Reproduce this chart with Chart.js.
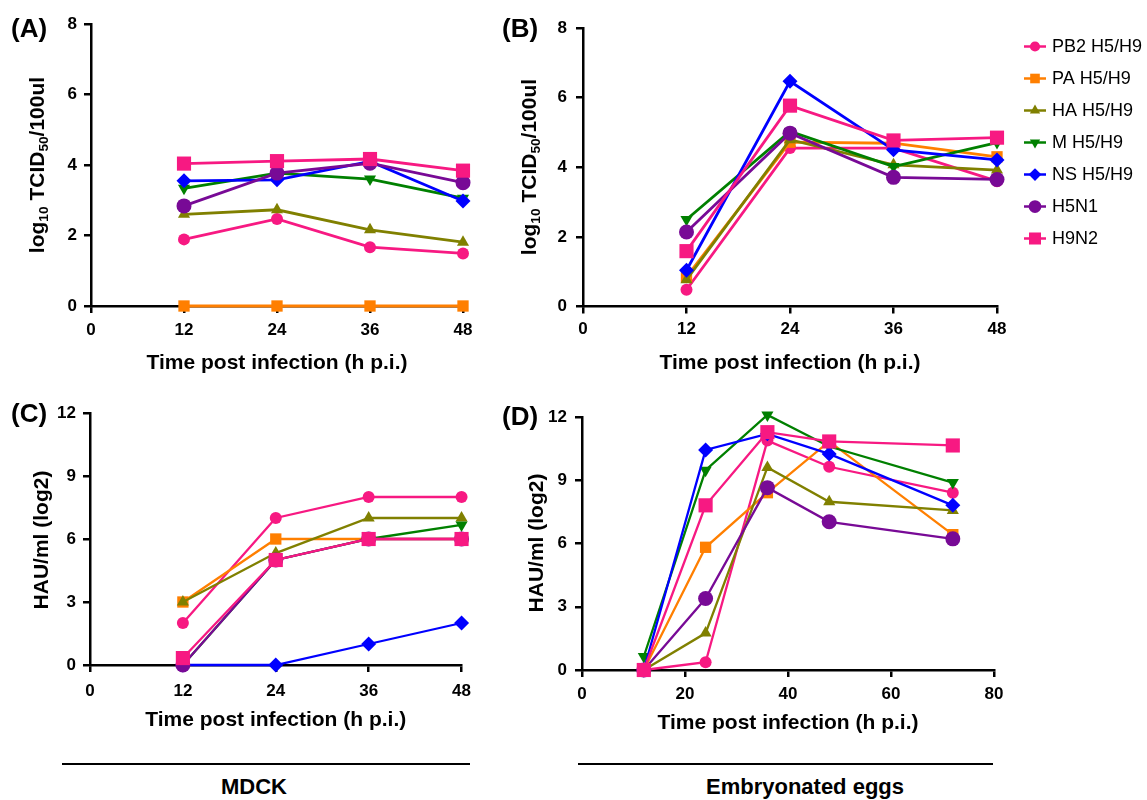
<!DOCTYPE html>
<html>
<head>
<meta charset="utf-8">
<script src="https://cdn.jsdelivr.net/npm/chart.js@4.4.1/dist/chart.umd.min.js"></script>
<style>
  body { margin: 0; background: #fff; width: 1147px; height: 800px; position: relative; overflow: hidden;
         font-family: "Liberation Sans", Arial, sans-serif; color: #000; }
  canvas { position: absolute; }
  .tag { position: absolute; font-weight: bold; font-size: 26px; line-height: 26px; white-space: nowrap; }
  .ytitle { position: absolute; font-weight: bold; font-size: 21px; line-height: 21px; white-space: nowrap;
            transform: translate(-50%, -50%) rotate(-90deg); }
  .ytitle sub { font-size: 65%; vertical-align: -0.3em; line-height: 0; }
  .rule { position: absolute; height: 2px; background: #000; }
  .group { position: absolute; font-weight: bold; font-size: 22px; line-height: 22px; white-space: nowrap;
           transform: translate(-50%, -50%); }
</style>
</head>
<body>
<canvas id="chartA"></canvas>
<canvas id="chartB"></canvas>
<canvas id="chartC"></canvas>
<canvas id="chartD"></canvas>

<div class="tag" style="left:11px;top:15px">(A)</div>
<div class="tag" style="left:502px;top:15px">(B)</div>
<div class="tag" style="left:11px;top:400px">(C)</div>
<div class="tag" style="left:502px;top:403px">(D)</div>

<div class="ytitle" style="left:36px;top:165px">log<sub>10</sub> TCID<sub>50</sub>/100ul</div>
<div class="ytitle" style="left:528px;top:167px">log<sub>10</sub> TCID<sub>50</sub>/100ul</div>
<div class="ytitle" style="left:40px;top:540px">HAU/ml (log2)</div>
<div class="ytitle" style="left:535px;top:543px">HAU/ml (log2)</div>

<div class="rule" style="left:62px;top:763px;width:408px"></div>
<div class="rule" style="left:578px;top:763px;width:415px"></div>
<div class="group" style="left:254px;top:787px">MDCK</div>
<div class="group" style="left:805px;top:787px">Embryonated eggs</div>

<script>
// series, in legend order
const seriesNames = ["PB2 H5/H9", "PA H5/H9", "HA H5/H9", "M H5/H9", "NS H5/H9", "H5N1", "H9N2"];
const colors = ["#f71982", "#ff7f00", "#808000", "#008000", "#0000ff", "#780a96", "#f71982"];

const hoursShort = [12, 24, 36, 48];
const hoursEggHA = [12, 24, 36, 48, 72];

// (A) MDCK, log10 TCID50/100ul
const tcidMDCK = [
  [1.89, 2.47, 1.67, 1.49],
  [0, 0, 0, 0],
  [2.60, 2.73, 2.16, 1.81],
  [3.34, 3.77, 3.60, 3.06],
  [3.55, 3.58, 4.10, 2.98],
  [2.84, 3.77, 4.05, 3.50],
  [4.04, 4.11, 4.17, 3.84]
];
// (B) eggs, log10 TCID50/100ul
const tcidEggs = [
  [0.48, 4.55, 4.55, 3.60],
  [0.85, 4.72, 4.69, 4.30],
  [0.77, 4.79, 4.07, 3.92],
  [2.50, 5.03, 4.02, 4.71],
  [1.04, 6.47, 4.50, 4.21],
  [2.14, 4.98, 3.71, 3.65],
  [1.59, 5.77, 4.77, 4.85]
];
// (C) MDCK, HAU/ml (log2)
const hauMDCK = [
  [2, 7, 8, 8],
  [3, 6, 6, 6],
  [3, 5.33, 7, 7],
  [0, 5, 6, 6.67],
  [0, 0, 1, 2],
  [0, 5, 6, 6],
  [0.33, 5, 6, 6]
];
// (D) eggs, HAU/ml (log2)
const hauEggs = [
  [0, 0.37, 10.88, 9.64, 8.41],
  [0, 5.82, 8.41, 10.84, 6.42],
  [0, 1.75, 9.61, 7.98, 7.57],
  [0.64, 9.48, 12.1, 10.6, 8.89],
  [0, 10.44, 11.2, 10.25, 7.81],
  [0, 3.39, 8.65, 7.03, 6.22],
  [0, 7.81, 11.28, 10.84, 10.65]
];

const markers = [
  { pointStyle: "circle", radius: 6, rotation: 0 },
  { pointStyle: "rect", radius: 8, rotation: 0 },
  { pointStyle: "triangle", radius: 7, rotation: 0 },
  { pointStyle: "triangle", radius: 7, rotation: 180 },
  { pointStyle: "rectRot", radius: 7.5, rotation: 0 },
  { pointStyle: "circle", radius: 7.5, rotation: 0 },
  { pointStyle: "rect", radius: 10, rotation: 0 }
];

const FONT = "'Liberation Sans', Arial, sans-serif";

function buildDatasets(xs, rows, lw) {
  return rows.map((row, i) => ({
    label: seriesNames[i],
    data: row.map((v, j) => ({ x: xs[j], y: v })),
    borderColor: colors[i],
    backgroundColor: colors[i],
    borderWidth: lw,
    pointStyle: markers[i].pointStyle,
    pointRadius: markers[i].radius,
    pointRotation: markers[i].rotation,
    pointBorderWidth: 0,
    pointHoverRadius: markers[i].radius,
    tension: 0,
    clip: false,
    order: seriesNames.length - i
  }));
}

// legend drawn in the empty strip right of panel B
const sideLegend = {
  id: "sideLegend",
  afterDraw(chart) {
    const ctx = chart.ctx;
    ctx.save();
    chart.data.datasets.forEach((ds, i) => {
      const y = 46.5 + i * 32;
      ctx.strokeStyle = ds.borderColor;
      ctx.fillStyle = ds.borderColor;
      ctx.lineWidth = 2.5;
      ctx.beginPath();
      ctx.moveTo(524, y);
      ctx.lineTo(546, y);
      ctx.stroke();
      Chart.helpers.drawPoint(ctx, {
        pointStyle: ds.pointStyle, radius: ds.pointRadius * 0.85,
        rotation: ds.pointRotation, borderWidth: 0
      }, 535, y);
      ctx.fillStyle = "#000";
      ctx.font = "18px " + FONT;
      ctx.textBaseline = "middle";
      ctx.textAlign = "left";
      ctx.fillText(ds.label, 552, y + 1);
    });
    ctx.restore();
  }
};

function panel(id, g, xs, rows, xMax, xStep, yMax, yStep, lw, extra) {
  const cv = document.getElementById(id);
  const lh = 21 * 1.2;
  const H = Math.round(g.titleY + lh / 2 + 4 - g.top);
  cv.width = g.width;
  cv.height = H;
  cv.style.left = g.left + "px";
  cv.style.top = g.top + "px";
  const axisLine = { color: "#000", width: 2.5 };
  return new Chart(cv, {
    type: "line",
    data: { datasets: buildDatasets(xs, rows, lw) },
    options: {
      responsive: false,
      devicePixelRatio: 1,
      animation: false,
      events: [],
      layout: { padding: { left: 0, top: g.axisTop - g.top, right: g.left + g.width - g.axisRight, bottom: 0 } },
      plugins: { legend: { display: false }, tooltip: { enabled: false } },
      scales: {
        x: {
          type: "linear", min: 0, max: xMax,
          border: axisLine,
          grid: { drawOnChartArea: false, drawTicks: true, tickLength: 7, color: "#000", lineWidth: 2.5 },
          ticks: { stepSize: xStep, color: "#000", padding: g.xPad, font: { family: FONT, size: 17, weight: "bold" } },
          title: { display: true, text: "Time post infection (h p.i.)", color: "#000",
                   padding: { top: 0, bottom: 4 }, font: { family: FONT, size: 21, weight: "bold" } },
          afterFit: s => { s.height = g.top + H - g.axisBottom; }
        },
        y: {
          type: "linear", min: 0, max: yMax,
          border: axisLine,
          grid: { drawOnChartArea: false, drawTicks: true, tickLength: 7, color: "#000", lineWidth: 2.5 },
          ticks: { stepSize: yStep, color: "#000", padding: g.yPad, font: { family: FONT, size: 17, weight: "bold" } },
          afterFit: s => { s.width = g.axisX - g.left; }
        }
      }
    },
    plugins: extra ? [extra] : []
  });
}

panel("chartA", { left: 0, top: 0, width: 480, axisX: 91, axisTop: 24, axisBottom: 306, axisRight: 463, titleY: 363, xPad: 7, yPad: 7 },
  hoursShort, tcidMDCK, 48, 12, 8, 2, 2.8);
panel("chartB", { left: 500, top: 0, width: 647, axisX: 583, axisTop: 28, axisBottom: 306.5, axisRight: 997, titleY: 363, xPad: 6, yPad: 9 },
  hoursShort, tcidEggs, 48, 12, 8, 2, 2.8, sideLegend);
panel("chartC", { left: 0, top: 390, width: 480, axisX: 90, axisTop: 413, axisBottom: 665, axisRight: 466, titleY: 720, xPad: 9, yPad: 7 },
  hoursShort, hauMDCK, 48, 12, 12, 3, 2.3);
panel("chartD", { left: 500, top: 390, width: 520, axisX: 582, axisTop: 417, axisBottom: 670, axisRight: 994, titleY: 723, xPad: 7, yPad: 8 },
  hoursEggHA, hauEggs, 80, 20, 12, 3, 2.3);
</script>
</body>
</html>
